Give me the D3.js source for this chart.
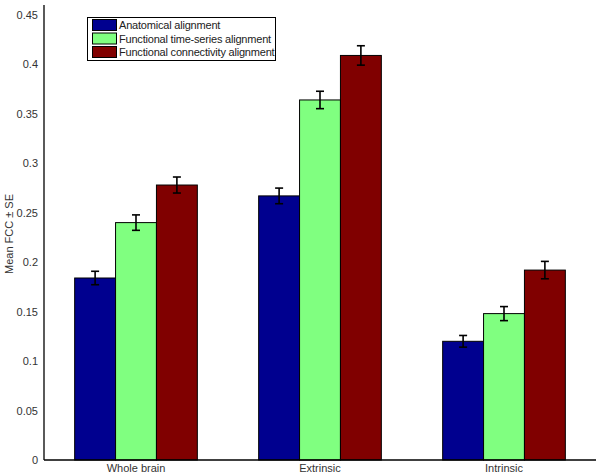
<!DOCTYPE html>
<html><head><meta charset="utf-8">
<script src="https://cdn.jsdelivr.net/npm/d3@7"></script>
<style>body{margin:0;background:#fff;}svg{display:block;font-family:"Liberation Sans",Arial,sans-serif;}</style>
</head><body>
<svg id="c" width="602" height="476"></svg>
<script>
const categories = ["Whole brain", "Extrinsic", "Intrinsic"];
const seriesNames = ["Anatomical alignment", "Functional time-series alignment", "Functional connectivity alignment"];
const anatomical = [0.184, 0.267, 0.120];
const timeSeries = [0.240, 0.364, 0.148];
const connectivity = [0.278, 0.409, 0.192];
const anatomicalSE = [0.0068, 0.0079, 0.0059];
const timeSeriesSE = [0.0078, 0.0088, 0.0071];
const connectivitySE = [0.0081, 0.0098, 0.0088];
const yTicks = [0, 0.05, 0.1, 0.15, 0.2, 0.25, 0.3, 0.35, 0.4, 0.45];
const colors = ["#00008f", "#80ff80", "#800000"];

const series = [anatomical, timeSeries, connectivity];
const ses = [anatomicalSE, timeSeriesSE, connectivitySE];

const svg = d3.select("#c");
const x0 = 44, x1 = 596;
const y = d3.scaleLinear().domain([0, 0.46]).range([460, 5]);
const xc = d3.scaleLinear().domain([0.5, 3.5]).range([x0, x1]);
const gw = 2/3, bw = gw/3;

const data = [];
categories.forEach((c, i) => series.forEach((s, j) => data.push({i, j, v: s[i], e: ses[j][i]})));

svg.selectAll("rect.bar").data(data).enter().append("rect")
  .attr("class","bar")
  .attr("x", d => xc(i1(d) ) )
  .attr("width", xc(bw) - xc(0))
  .attr("y", d => y(d.v))
  .attr("height", d => y(0) - y(d.v))
  .attr("fill", d => colors[d.j])
  .attr("stroke", "#000").attr("stroke-width", 1);
function i1(d){ return d.i + 1 - gw/2 + d.j*bw; }
function cx(d){ return xc(d.i + 1 - gw/2 + (d.j+0.5)*bw); }

const eb = svg.append("g").attr("stroke","#000").attr("stroke-width",1.6);
data.forEach(d => {
  const c = cx(d);
  eb.append("line").attr("x1",c).attr("x2",c).attr("y1",y(d.v+d.e)).attr("y2",y(d.v-d.e));
  eb.append("line").attr("x1",c-4).attr("x2",c+4).attr("y1",y(d.v+d.e)).attr("y2",y(d.v+d.e));
  eb.append("line").attr("x1",c-4).attr("x2",c+4).attr("y1",y(d.v-d.e)).attr("y2",y(d.v-d.e));
});

// axes
const yAxis = d3.axisLeft(y).tickValues(yTicks).tickSize(0).tickPadding(6).tickFormat(d => d3.format("")(+d.toFixed(2)));
const gy = svg.append("g").attr("transform",`translate(${x0},0)`).call(yAxis);
gy.select(".domain").remove();
gy.selectAll("text").attr("font-size", 11).attr("fill", "#333").attr("font-family", "Liberation Sans, Arial, sans-serif");

const xb = d3.scaleBand().domain(categories).range([xc(0.5), xc(3.5)]);
const xAxis = d3.axisBottom(xb).tickSize(0).tickPadding(4);
const gx = svg.append("g").attr("transform",`translate(0,${y(0)})`).call(xAxis);
gx.select(".domain").remove();
gx.selectAll("text").attr("font-size", 11).attr("fill", "#333").attr("font-family", "Liberation Sans, Arial, sans-serif");

svg.append("line").attr("x1",x0).attr("x2",x0).attr("y1",y(0.46)).attr("y2",y(0)).attr("stroke","#000").attr("stroke-width",1.3);
svg.append("line").attr("x1",x0).attr("x2",x1).attr("y1",y(0)).attr("y2",y(0)).attr("stroke","#000").attr("stroke-width",1.3);

svg.append("text").attr("transform","translate(13,234) rotate(-90)").attr("text-anchor","middle")
  .attr("font-size",11).attr("fill","#333").text("Mean FCC ± SE");

// legend
const lg = svg.append("g");
lg.append("rect").attr("x",87.5).attr("y",17.5).attr("width",188).attr("height",43).attr("fill","#fff").attr("stroke","#000").attr("stroke-width",1);
seriesNames.forEach((n, j) => {
  lg.append("rect").attr("x",92.5).attr("y",19.5 + j*13.5).attr("width",24).attr("height",11).attr("fill",colors[j]).attr("stroke","#000").attr("stroke-width",1);
  lg.append("text").attr("x",119).attr("y",29 + j*13.5).attr("font-size",11).attr("fill","#222").attr("letter-spacing","-0.2").text(n);
});
</script>
</body></html>
